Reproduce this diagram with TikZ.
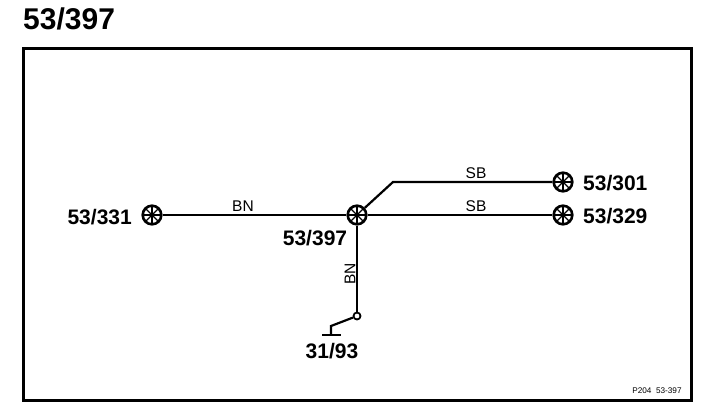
\documentclass[tikz,border=0pt]{standalone}
\usepackage{fontspec}
\setmainfont{Liberation Sans}
\tikzset{
  x=1pt,y=-1pt,
  wire/.style={line width=2.2pt,black},
  plug/.style={circle,draw=black,line width=2.6pt,minimum size=18.6pt,inner sep=0pt,fill=white,
    path picture={\foreach \a in {0,45,...,315}{\draw[line width=1.3pt] (path picture bounding box.center) -- ++(\a:10pt);}}},
  pin/.style={circle,draw=black,line width=1.8pt,minimum size=7pt,inner sep=0pt,fill=white},
  lab/.style={font=\bfseries\fontsize{21}{21}\selectfont,inner sep=0pt,text=black},
  wlab/.style={font=\fontsize{15.5}{16}\selectfont,inner sep=0pt,text=black},
}
\begin{document}
\begin{tikzpicture}
\useasboundingbox (0,0) rectangle (704,410);
\fill[white] (0,0) rectangle (704,410);
\node[font=\bfseries\fontsize{30}{30}\selectfont,inner sep=0pt,anchor=west] (title) at (23,19) {53/397};
\draw[line width=3pt] (23,48) rectangle (691,400);
\coordinate (bend) at (393,182);
\node[plug] (a) at (152,215) {};
\node[plug] (c) at (357,215) {};
\node[plug] (b) at (563,182) {};
\node[plug] (d) at (563,215) {};
\node[pin] (e) at (357,316) {};
\coordinate (g) at (331,326);
\coordinate (gb) at (331,335);
\coordinate (gl) at (322,335);
\coordinate (gr) at (341,335);
\draw[wire] (a) -- (c);
\draw[wire] (c) -- (d);
\draw[wire] (c) -- (bend) -- (b);
\draw[wire] (c) -- (e);
\draw[wire] (e) -- (g) -- (gb);
\draw[wire] (gl) -- (gr);
\node[lab,anchor=east] (la) at (132,217) {53/331};
\node[lab,anchor=west] (lb) at (583,183) {53/301};
\node[lab,anchor=west] (ld) at (583,216) {53/329};
\node[lab] (lc) at (315,238) {53/397};
\node[lab] (lg) at (332,351) {31/93};
\node[wlab] (w1) at (243,206) {BN};
\node[wlab] (w2) at (476,173) {SB};
\node[wlab] (w3) at (476,206) {SB};
\node[wlab,rotate=90] (w4) at (350,274) {BN};
\node[font=\fontsize{8.2}{9}\selectfont,inner sep=0pt] (ref) at (657,391) {P204\ \ 53-397};
\end{tikzpicture}
\end{document}
